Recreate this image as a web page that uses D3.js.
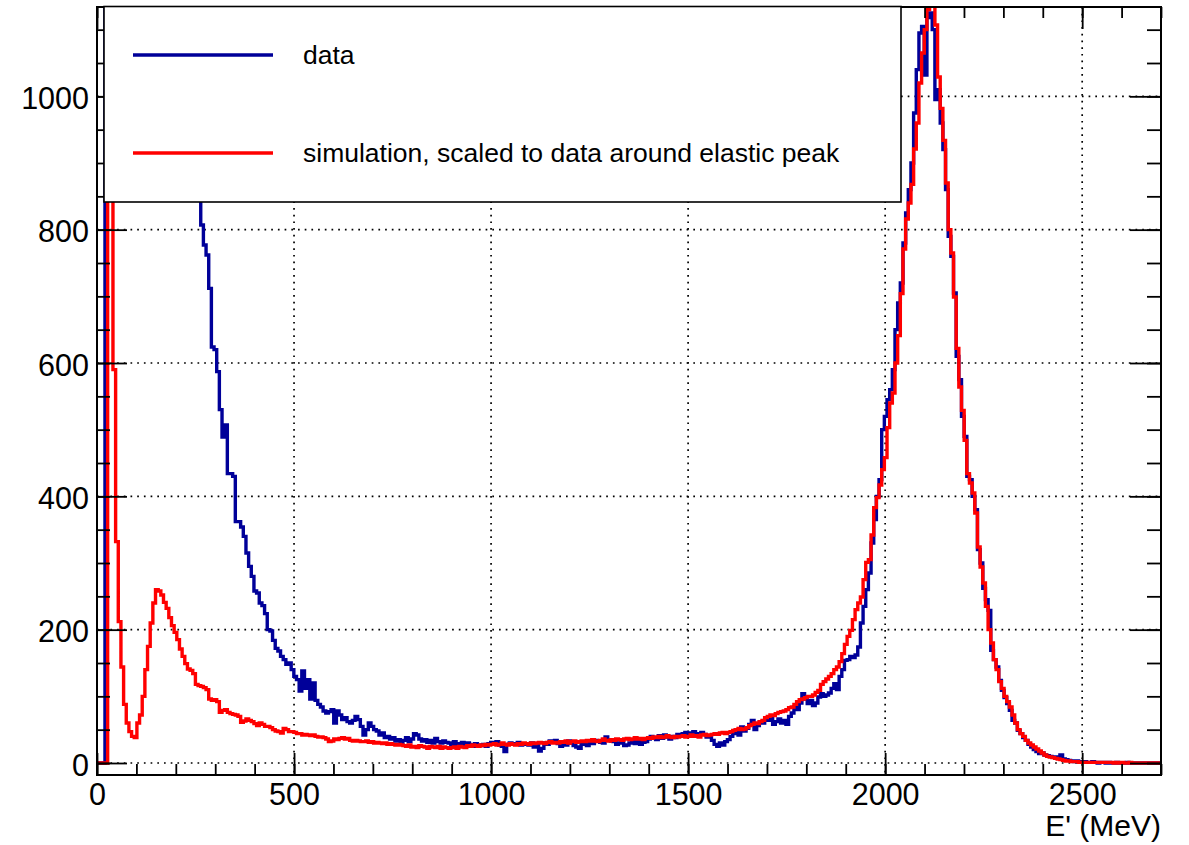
<!DOCTYPE html>
<html><head><meta charset="utf-8">
<script src="https://cdn.jsdelivr.net/npm/d3@7"></script>
<style>
html,body{margin:0;padding:0;background:#fff;}
svg{display:block;}
text{font-family:"Liberation Sans", Arial, Helvetica, sans-serif;fill:#000;}
</style>
</head><body>
<svg id="chart" width="1189" height="845"></svg>
<script>
// ---------- data ----------
const seriesNames = ["data", "simulation, scaled to data around elastic peak"];
const seriesColors = ["#000099", "#ff0000"];
const xRange = [0, 2700];      // MeV
const yRange = [-18, 1134];
const binWidth = 6.75;         // MeV, 400 bins
const dataCounts = [
0,0,0,3900,4700,4500,4200,3900,3600,3350,3100,2900,2700,2520,2350,2200,2060,1930,1810,1700,
1600,1510,1430,1360,1290,1230,1170,1120,1070,1030,990,960,935,915,900,890,880,870,860,807,
777,762,712,624,620,587,530,489,507,434,434,430,362,362,354,340,315,295,280,258,
255,240,236,224,200,198,184,172,168,160,155,148,150,140,130,125,108,138,112,125,
96,120,94,88,84,78,75,77,80,60,78,72,65,68,62,60,64,70,65,55,
42,50,60,55,50,48,42,45,38,40,36,38,33,35,30,34,38,32,36,44,
42,36,33,35,31,34,30,37,32,30,33,31,30,28,32,26,29,31,27,30,
28,25,29,27,26,28,25,29,31,30,32,27,25,17,28,30,28,29,31,27,
29,28,27,30,24,26,18,22,30,28,33,32,34,29,25,31,27,33,30,26,
24,22,30,28,26,32,29,34,33,31,30,39,35,33,32,28,30,34,26,27,
30,33,29,35,28,31,32,36,40,38,35,41,37,42,39,36,40,38,43,41,
44,46,42,45,47,41,44,46,43,39,40,34,28,25,30,27,32,35,40,44,
50,42,54,48,52,58,64,50,56,62,60,66,64,69,58,62,66,60,64,58,
70,75,84,80,90,104,96,89,94,86,90,99,104,100,102,105,112,119,110,130,
140,154,155,160,158,162,174,210,235,260,285,330,365,400,425,500,520,545,560,590,
650,690,720,780,825,860,900,975,1040,1095,1105,1032,1118,1125,1100,995,1010,960,920,860,
790,760,705,610,575,520,490,430,425,400,380,320,300,262,245,229,169,155,144,124,
109,98,89,79,64,60,49,44,38,34,28,24,20,17,14,15,12,11,10,9,
9,8,12,6,5,4,3,2,3,2,1,2,1,1,2,1,0,1,1,0,
1,0,0,1,0,0,0,1,0,0,0,0,0,0,0,0,0,0,0,0
];
const simCounts = [
0,0,0,0,2600,1500,590,332,212,144,88,60,47,40,38,60,72,100,140,175,
210,240,260,258,252,241,232,218,206,196,185,171,160,149,141,139,134,118,116,115,
113,110,96,94,95,92,76,79,80,76,74,73,72,70,61,63,66,64,62,59,
56,60,58,55,55,53,50,48,47,45,52,50,47,47,46,44,44,42,43,42,
41,42,40,39,39,38,36,32,33,36,35,37,38,36,37,34,33,34,33,32,
32,33,31,32,30,31,30,29,30,28,29,28,27,28,27,26,25,27,24,25,
23,26,25,24,22,25,24,23,25,22,24,23,22,23,24,22,25,24,23,26,
25,27,26,25,27,26,28,27,28,29,27,28,30,28,27,29,28,27,29,28,
30,29,28,30,29,30,31,30,29,31,32,30,31,30,32,31,33,30,32,33,
31,32,33,32,34,33,35,33,32,34,36,34,33,35,34,36,35,34,36,37,
35,36,38,36,37,35,37,38,37,39,38,40,38,39,41,39,38,40,39,40,
41,39,40,42,40,41,39,42,43,41,42,43,44,43,45,46,44,46,47,49,
50,52,50,51,53,56,58,60,59,62,64,68,70,72,71,74,76,77,78,80,
83,84,88,92,95,96,98,100,100,102,106,109,118,122,126,130,134,140,144,152,
164,178,190,199,215,230,240,249,275,301,305,342,383,398,417,440,458,503,540,555,
600,641,704,771,816,840,868,921,960,1020,1065,1100,1130,1140,1136,1107,1029,982,934,870,
800,765,699,622,564,529,484,434,420,405,375,324,294,270,235,200,180,155,140,122,
112,100,92,84,72,60,50,44,40,34,30,27,24,21,18,15,12,10,9,8,
7,6,5,4,3,3,2,2,2,1,1,1,1,1,1,1,1,1,1,1,
1,1,0,1,0,1,0,0,1,0,0,0,0,0,0,0,0,0,0,0
];
const xMajorTicks = [0, 500, 1000, 1500, 2000, 2500];
const xMinorTicks = d3.range(0, 2701, 100);
const yMajorTicks = [0, 200, 400, 600, 800, 1000];
const yMinorTicks = d3.range(0, 1134, 50);
const xTitle = "E' (MeV)";

// ---------- layout ----------
const plot = {left: 97, top: 7, right: 1161, bottom: 775};
const svg = d3.select("#chart");
const x = d3.scaleLinear().domain(xRange).range([plot.left, plot.right]);
const y = d3.scaleLinear().domain(yRange).range([plot.bottom, plot.top]);

svg.append("defs").append("clipPath").attr("id", "clip")
  .append("rect").attr("x", plot.left).attr("y", plot.top)
  .attr("width", plot.right - plot.left).attr("height", plot.bottom - plot.top);

// grid
const grid = svg.append("g").attr("stroke", "#000").attr("stroke-width", 1.7)
  .attr("stroke-dasharray", "1.7,5");
grid.selectAll("line.gx").data(xMajorTicks.filter(d => d > xRange[0])).enter().append("line")
  .attr("x1", d => x(d)).attr("x2", d => x(d)).attr("y1", plot.top).attr("y2", plot.bottom);
grid.selectAll("line.gy").data(yMajorTicks).enter().append("line")
  .attr("y1", d => y(d)).attr("y2", d => y(d)).attr("x1", plot.left).attr("x2", plot.right);

// histograms
function histPoints(counts) {
  const pts = counts.map((c, i) => [xRange[0] + i * binWidth, c]);
  pts.push([xRange[0] + counts.length * binWidth, counts[counts.length - 1]]);
  return pts;
}
const line = d3.line().x(d => x(d[0])).y(d => y(d[1])).curve(d3.curveStepAfter);
const hg = svg.append("g").attr("clip-path", "url(#clip)");
[dataCounts, simCounts].forEach((counts, k) => {
  hg.append("path").attr("d", line(histPoints(counts)))
    .attr("fill", "none").attr("stroke", seriesColors[k]).attr("stroke-width", 3.4)
    .attr("stroke-linejoin", "miter");
});

// axes
function styleAxis(g) {
  g.select(".domain").remove();
  g.selectAll(".tick line").attr("stroke", "#000").attr("stroke-width", 1.8);
}
const fs = 30.5;
svg.append("g").attr("transform", `translate(0,${plot.bottom})`)
  .call(d3.axisBottom(x).tickValues(xMinorTicks).tickSize(-11).tickFormat("")).call(styleAxis);
svg.append("g").attr("transform", `translate(0,${plot.bottom})`)
  .call(d3.axisBottom(x).tickValues(xMajorTicks).tickSize(-22).tickFormat(d3.format("d")))
  .call(styleAxis)
  .call(g => g.selectAll("text").attr("y", 30).attr("dy", 0).style("font-size", fs + "px")
    .style("font-family", '"Liberation Sans", Arial, sans-serif').attr("fill", "#000"));
svg.append("g").attr("transform", `translate(0,${plot.top})`)
  .call(d3.axisTop(x).tickValues(xMinorTicks).tickSize(-11).tickFormat("")).call(styleAxis);
svg.append("g").attr("transform", `translate(0,${plot.top})`)
  .call(d3.axisTop(x).tickValues(xMajorTicks).tickSize(-22).tickFormat("")).call(styleAxis);
svg.append("g").attr("transform", `translate(${plot.left},0)`)
  .call(d3.axisLeft(y).tickValues(yMinorTicks).tickSize(-13).tickFormat("")).call(styleAxis);
svg.append("g").attr("transform", `translate(${plot.left},0)`)
  .call(d3.axisLeft(y).tickValues(yMajorTicks).tickSize(-30).tickFormat(d3.format("d")))
  .call(styleAxis)
  .call(g => g.selectAll("text").attr("x", -8).attr("dy", 0).attr("y", 12).style("font-size", fs + "px")
    .style("font-family", '"Liberation Sans", Arial, sans-serif').attr("fill", "#000"));
svg.append("g").attr("transform", `translate(${plot.right},0)`)
  .call(d3.axisRight(y).tickValues(yMinorTicks).tickSize(-14).tickFormat("")).call(styleAxis);
svg.append("g").attr("transform", `translate(${plot.right},0)`)
  .call(d3.axisRight(y).tickValues(yMajorTicks).tickSize(-31).tickFormat("")).call(styleAxis);

// frame
svg.append("rect").attr("x", plot.left).attr("y", plot.top)
  .attr("width", plot.right - plot.left).attr("height", plot.bottom - plot.top)
  .attr("fill", "none").attr("stroke", "#000").attr("stroke-width", 2);

// axis title
svg.append("text").attr("x", plot.right).attr("y", 836).attr("text-anchor", "end")
  .style("font-size", "30px").text(xTitle);

// legend
const leg = svg.append("g");
leg.append("rect").attr("x", 104).attr("y", 6.5).attr("width", 797).attr("height", 195.5)
  .attr("fill", "#fff").attr("stroke", "#000").attr("stroke-width", 1.6);
const legY = [55, 153];
seriesNames.forEach((name, k) => {
  leg.append("line").attr("x1", 133).attr("x2", 273).attr("y1", legY[k]).attr("y2", legY[k])
    .attr("stroke", seriesColors[k]).attr("stroke-width", 3.4);
  leg.append("text").attr("x", 303).attr("y", legY[k] + 9)
    .style("font-size", "26.5px").text(name);
});
</script>
</body></html>
